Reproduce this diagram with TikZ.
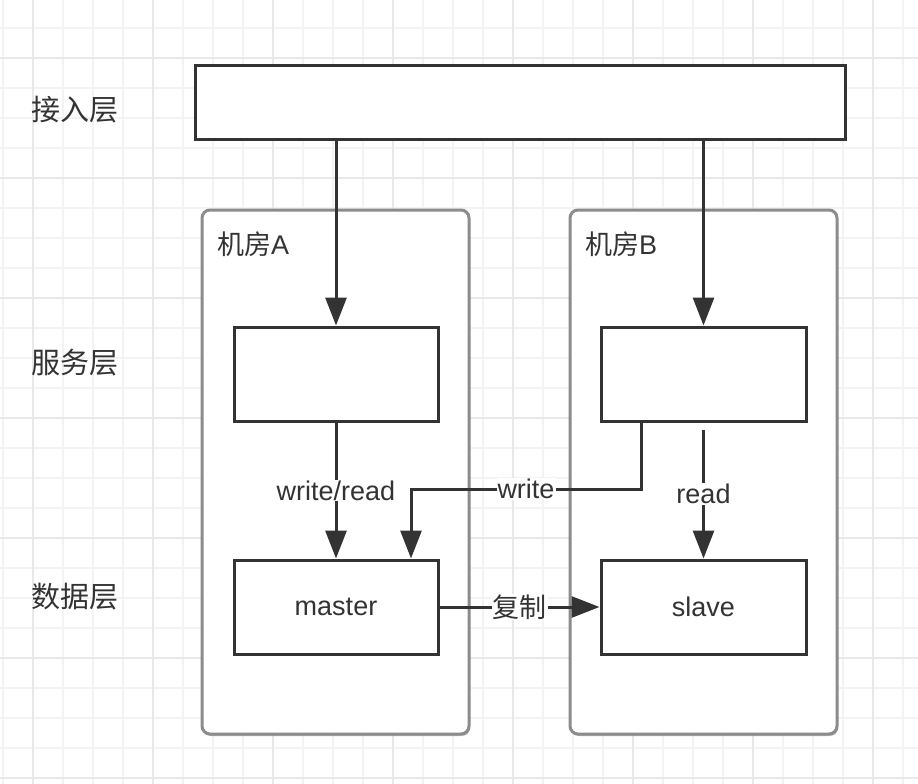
\documentclass[tikz,border=0pt]{standalone}
\usepackage{fontspec}
\setmainfont{Liberation Sans}
\newfontfamily\cjk{Noto Sans CJK SC}
\usetikzlibrary{arrows.meta,shadows}
\definecolor{ink}{HTML}{333333}
\definecolor{frame}{HTML}{8C8C8C}
\definecolor{gridminor}{HTML}{F3F3F3}
\definecolor{gridmajor}{HTML}{E8E8E8}
\newcommand\zh[1]{{\cjk #1}}
\tikzset{
  box/.style={draw=ink, line width=3pt, fill=white, inner sep=0pt},
  room/.style={draw=frame, line width=3pt, fill=white, rounded corners=8pt, inner sep=0pt,
    drop shadow={shadow xshift=1pt, shadow yshift=-2pt, opacity=0.25, fill=black}},
  arr/.style={draw=ink, line width=3pt, -{Triangle[length=28pt,width=21pt]}},
  lbl/.style={fill=white, inner sep=1pt, text=ink, font=\fontsize{27pt}{32pt}\selectfont},
  side/.style={text=ink, font=\fontsize{27pt}{32pt}\selectfont, inner sep=0pt},
  layer/.style={text=ink, font=\fontsize{29pt}{34pt}\selectfont, inner sep=0pt},
}
\begin{document}
\begin{tikzpicture}[x=1pt,y=-1pt]
\useasboundingbox (0,0) rectangle (918,784);
\fill[white] (0,0) rectangle (918,784);
% grid
\foreach \x in {3,33,...,903} \draw[gridminor, line width=1.5pt] (\x,0) -- (\x,784);
\foreach \y in {28,58,...,778} \draw[gridminor, line width=1.5pt] (0,\y) -- (918,\y);
\foreach \x in {33,153,...,873} \draw[gridmajor, line width=1.5pt] (\x,0) -- (\x,784);
\foreach \y in {58,178,...,778} \draw[gridmajor, line width=1.5pt] (0,\y) -- (918,\y);

% layer labels
\node[layer] (l1) at (75,110) {\zh{接入层}};
\node[layer] (l2) at (75,363) {\zh{服务层}};
\node[layer] (l3) at (75,597) {\zh{数据层}};

% top access box
\node[box, minimum width=650pt, minimum height=73pt] (top) at (520,102.5) {};

% rooms
\node[room, minimum width=267pt, minimum height=524pt] (ra) at (335.5,472) {};
\node[room, minimum width=267pt, minimum height=524pt] (rb) at (703.5,472) {};
\node[side, anchor=west] (ta) at (217,244) {\zh{机房}A};
\node[side, anchor=west] (tb) at (585,244) {\zh{机房}B};

% service boxes
\node[box, minimum width=204pt, minimum height=94pt] (sa) at (336,374) {};
\node[box, minimum width=205pt, minimum height=94pt] (sb) at (703.5,374) {};

% data boxes
\node[box, minimum width=204pt, minimum height=94pt, text=ink, font=\fontsize{27pt}{32pt}\selectfont] (ma) at (336,607) {master};
\node[box, minimum width=205pt, minimum height=94pt, text=ink, font=\fontsize{27pt}{32pt}\selectfont] (sl) at (703.5,607) {slave};

% connectors
\draw[arr] (top.south -| sa.north) -- (sa.north);
\draw[arr] (top.south -| sb.north) -- (sb.north);
\draw[arr] (sa.south) -- node[lbl] {write/read} (ma.north);
\coordinate (w1) at (641,489);
\coordinate (w2) at (411,489);
\draw[arr] (sb.south -| w1) -- (w1) -- node[lbl] {write} (w2) -- (ma.north -| w2);
\draw[arr] ([yshift=-7pt]sb.south) -- node[lbl] {read} (sl.north);
\draw[arr] (ma.east) -- node[lbl] {\zh{复制}} (sl.west);
\end{tikzpicture}
\end{document}
